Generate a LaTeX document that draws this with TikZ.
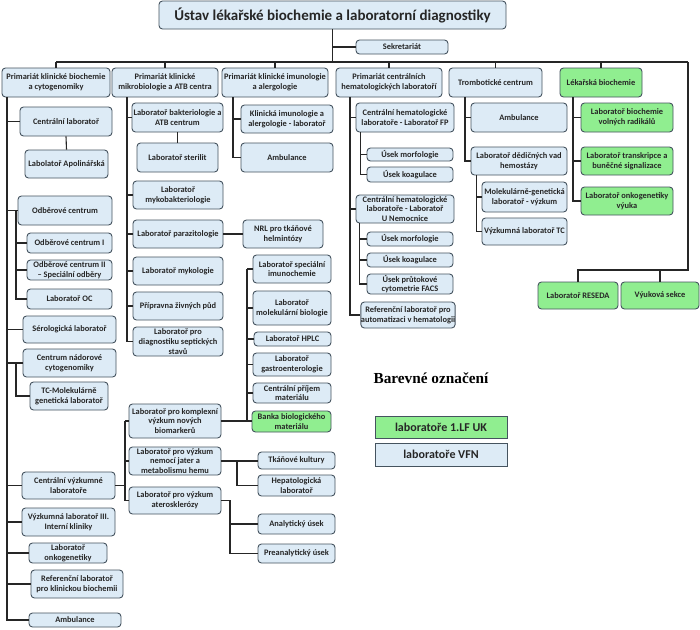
\documentclass[tikz,border=0pt]{standalone}
\usepackage{fontspec}
\setmainfont{Carlito}
\newfontfamily\legfont{Liberation Serif}
\usetikzlibrary{calc}
\definecolor{bfill}{HTML}{DDEBF6}
\definecolor{gfill}{HTML}{90EE90}
\definecolor{bdraw}{HTML}{45535F}
\definecolor{ln}{HTML}{262626}
\tikzset{
 box/.style={draw=bdraw, fill=bfill, rounded corners=3.5pt, line width=0.9pt, inner sep=0pt, align=center, font=\bfseries\fontsize{8.4}{9.6}\selectfont, text=black!85},
 grn/.style={fill=gfill},
 legbox/.style={draw=bdraw, line width=0.9pt, inner sep=0pt, align=center, font=\bfseries\fontsize{12}{14}\selectfont, text=black!85},
 con/.style={draw=ln, line width=1.1pt},
}
\newcommand\ob[7][]{\node[box,#1,minimum width={((#5)-(#3))*1pt},minimum height={((#6)-(#4))*1pt}] (#2) at ({((#3)+(#5))/2},{((#4)+(#6))/2}) {#7};}
\begin{document}
\begin{tikzpicture}[x=1pt,y=-1pt]
\fill[white] (0,0) rectangle (700,629);
\useasboundingbox (0,0) rectangle (700,629);
% title
\ob[font=\bfseries\fontsize{15}{17}\selectfont]{title}{159}{1}{506}{29}{Ústav lékařské biochemie a laboratorní diagnostiky}
\ob{sek}{356}{40}{448}{54}{Sekretariát}
% headers
\ob{h1}{2}{68}{110}{97}{Primariát klinické biochemie\\a cytogenomiky}
\ob{h2}{112}{68}{218}{97}{Primariát klinické\\mikrobiologie a ATB centra}
\ob{h3}{222}{68}{328}{97}{Primariát klinické imunologie\\a alergologie}
\ob{h4}{336}{68}{442}{97}{Primariát centrálních\\hematologických laboratoří}
\ob{h5}{449}{68}{542}{97}{Trombotické centrum}
\ob[grn]{h6}{560}{68}{642}{97}{Lékařská biochemie}
% column 1
\ob{a1}{20}{107}{112}{136}{Centrální laboratoř}
\ob{a2}{25}{150}{108}{178}{Labolatoř Apolinářská}
\ob{a3}{18}{196}{112}{225}{Odběrové centrum}
\ob{a4}{27}{233}{112}{253}{Odběrové centrum I}
\ob{a5}{27}{260}{112}{280}{Odběrové centrum II\\– Speciální odběry}
\ob{a6}{27}{289}{112}{309}{Laboratoř OC}
\ob{a7}{23}{316}{116}{343}{Sérologická laboratoř}
\ob{a8}{23}{349}{116}{377}{Centrum nádorové\\cytogenomiky}
\ob{a9}{30}{382}{108}{410}{TC-Molekulárně\\genetická laboratoř}
\ob{a10}{22}{472}{115}{499}{Centrální výzkumné\\laboratoře}
\ob{a11}{22}{508}{115}{536}{Výzkumná laboratoř III.\\Interní kliniky}
\ob{a12}{29}{543}{107}{563}{Laboratoř\\onkogenetiky}
\ob{a13}{31}{570}{123}{598}{Referenční laboratoř\\pro klinickou biochemii}
\ob{a14}{29}{613}{121}{627}{Ambulance}
% research labs
\ob{b1}{129}{404}{221}{438}{Laboratoř pro komplexní\\výzkum nových\\biomarkerů}
\ob{b2}{129}{447}{221}{475}{Laboratoř pro výzkum\\nemocí jater a\\metabolismu hemu}
\ob{b3}{129}{487}{221}{514}{Laboratoř pro výzkum\\aterosklerózy}
\ob{c1}{253}{255}{331}{283}{Laboratoř speciální\\imunochemie}
\ob{c2}{253}{291}{331}{325}{Laboratoř\\molekulární biologie}
\ob{c3}{254}{332}{331}{346}{Laboratoř HPLC}
\ob{c4}{253}{353}{331}{376}{Laboratoř\\gastroenterologie}
\ob{c5}{253}{383}{331}{403}{Centrální příjem\\materiálu}
\ob[grn]{c6}{252}{411}{331}{432}{Banka biologického\\materiálu}
\ob{d1}{258}{452}{335}{469}{Tkáňové kultury}
\ob{d2}{258}{475}{335}{496}{Hepatologická\\laboratoř}
\ob{d3}{258}{514}{335}{534}{Analytický úsek}
\ob{d4}{258}{544}{335}{563}{Preanalytický úsek}
% column 2
\ob{e1}{132}{103}{223}{132}{Laboratoř bakteriologie a\\ATB centrum}
\ob{e2}{137}{143}{218}{172}{Laboratoř sterilit}
\ob{e3}{133}{181}{223}{209}{Laboratoř\\mykobakteriologie}
\ob{e4}{133}{220}{223}{248}{Laboratoř parazitologie}
\ob{e5}{243}{220}{323}{248}{NRL pro tkáňové\\helmintózy}
\ob{e6}{133}{257}{223}{285}{Laboratoř mykologie}
\ob{e7}{133}{292}{223}{320}{Přípravna živných půd}
\ob{e8}{133}{327}{223}{356}{Laboratoř pro\\diagnostiku septických\\stavů}
% column 3
\ob{f1}{241}{105}{333}{133}{Klinická imunologie a\\alergologie - laboratoř}
\ob{f2}{241}{143}{333}{172}{Ambulance}
% column 4
\ob{g1}{356}{103}{454}{132}{Centrální hematologické\\laboratoře - Laboratoř FP}
\ob{g2}{367}{148}{453}{161}{Úsek morfologie}
\ob{g3}{367}{167}{453}{182}{Úsek koagulace}
\ob{g4}{356}{195}{454}{223}{Centrální hematologické\\laboratoře - Laboratoř\\U Nemocnice}
\ob{g5}{367}{232}{453}{246}{Úsek morfologie}
\ob{g6}{367}{253}{453}{267}{Úsek koagulace}
\ob{g7}{367}{274}{453}{294}{Úsek průtokové\\cytometrie FACS}
\ob{g8}{363}{302}{453}{328}{Referenční laboratoř pro\\automatizaci v hematologii}
% column 5
\ob{k1}{471}{103}{567}{132}{Ambulance}
\ob{k2}{471}{147}{567}{175}{Laboratoř dědičných vad\\hemostázy}
\ob{k3}{482}{182}{567}{212}{Molekulárně-genetická\\laboratoř - výzkum}
\ob{k4}{482}{218}{567}{245}{Výzkumná laboratoř TC}
% column 6
\ob[grn]{m1}{581}{103}{673}{132}{Laboratoř biochemie\\volných radikálů}
\ob[grn]{m2}{581}{147}{673}{175}{Laboratoř transkripce a\\buněčné signalizace}
\ob[grn]{m3}{581}{187}{673}{215}{Laboratoř onkogenetiky\\výuka}
\ob[grn]{n1}{538}{282}{618}{309}{Laboratoř RESEDA}
\ob[grn]{n2}{621}{282}{699}{309}{Výuková sekce}
% legend
\node[font=\legfont\bfseries\fontsize{15.3}{18}\selectfont, text=black] (legt) at (431,378) {Barevné označení};
\node[legbox, fill=gfill, minimum width=132pt, minimum height=22pt] (lg1) at (441,427) {laboratoře 1.LF UK};
\node[legbox, fill=bfill, minimum width=132pt, minimum height=23pt] (lg2) at (441,454.5) {laboratoře VFN};
% ---------- connectors ----------
\coordinate (busY) at (0,62);
\coordinate (busR) at (688,62);
\coordinate (rj) at (688,270);
\draw[con] (title.south) -- (title.south |- busY);
\draw[con] (title.south |- sek.west) -- (sek.west);
\draw[con] (h1.north |- busY) -- (busR);
\foreach \h in {h1,h2,h3,h4,h5,h6} \draw[con] (\h.north) -- (\h.north |- busY);
\draw[con] (busR) -- (rj) -- (n1.north |- rj) -- (n1.north);
\draw[con] (n2.north |- rj) -- (n2.north);
% column 1
\coordinate (c1x) at (7,0);
\coordinate (s1x) at (16,0);
\draw[con] (h1.south -| c1x) |- (a14.west);
\foreach \n in {a1,a3,a7,a8,a10,a11,a12,a13} \draw[con] (\n.west -| c1x) -- (\n.west);
\draw[con] (a1.south) -- (a2.north);
\draw[con] (a3.west -| s1x) |- (a6.west);
\foreach \n in {a4,a5} \draw[con] (\n.west -| s1x) -- (\n.west);
\draw[con] (a8.west -| s1x) |- (a9.west);
% research
\coordinate (v1x) at (125,0);
\coordinate (v2x) at (247,0);
\coordinate (v3x) at (237,0);
\coordinate (v4x) at (230,0);
\draw[con] (a10.east) -- (a10.east -| v1x);
\draw[con] (b1.west -| v1x) -- (b3.west -| v1x);
\foreach \n in {b1,b2,b3} \draw[con] (\n.west -| v1x) -- (\n.west);
\draw[con] (b1.east) -- (b1.east -| c6.west);
\draw[con] (c1.west -| v2x) -- (b1.east -| v2x);
\foreach \n in {c1,c2,c3,c4,c5} \draw[con] (\n.west -| v2x) -- (\n.west);
\draw[con] (b2.east) -- (b2.east -| d1.west);
\draw[con] (b2.east -| v3x) |- (d2.west);
\draw[con] (b3.east) -- (b3.east -| v4x) |- (d4.west);
\draw[con] (d3.west -| v4x) -- (d3.west);
% column 2
\coordinate (c2x) at (127,0);
\draw[con] (h2.south -| c2x) |- (e8.west);
\foreach \n in {e1,e3,e4,e6,e7} \draw[con] (\n.west -| c2x) -- (\n.west);
\draw[con] (e1.south) -- (e2.north);
\draw[con] (e4.east) -- (e5.west);
% column 3
\coordinate (c3x) at (233,0);
\draw[con] (h3.south -| c3x) |- (f2.west);
\draw[con] (f1.west -| c3x) -- (f1.west);
% column 4
\coordinate (c4x) at (350,0);
\draw[con] (h4.south -| c4x) |- (g8.west);
\foreach \n in {g1,g4} \draw[con] (\n.west -| c4x) -- (\n.west);
\coordinate (s4a) at ([xshift=5pt]g1.south west);
\draw[con] (s4a) |- (g3.west);
\draw[con] (g2.west -| s4a) -- (g2.west);
\coordinate (s4b) at ([xshift=4pt]g4.south west);
\draw[con] (s4b) |- (g7.west);
\foreach \n in {g5,g6} \draw[con] (\n.west -| s4b) -- (\n.west);
% column 5
\coordinate (c5x) at (465,0);
\draw[con] (h5.south -| c5x) |- (k2.west);
\draw[con] (k1.west -| c5x) -- (k1.west);
\coordinate (s5) at ([xshift=6pt]k2.south west);
\draw[con] (s5) |- (k4.west);
\draw[con] (k3.west -| s5) -- (k3.west);
% column 6
\coordinate (c6x) at (573,0);
\draw[con] (h6.south -| c6x) |- (m3.west);
\foreach \n in {m1,m2} \draw[con] (\n.west -| c6x) -- (\n.west);
\end{tikzpicture}
\end{document}
